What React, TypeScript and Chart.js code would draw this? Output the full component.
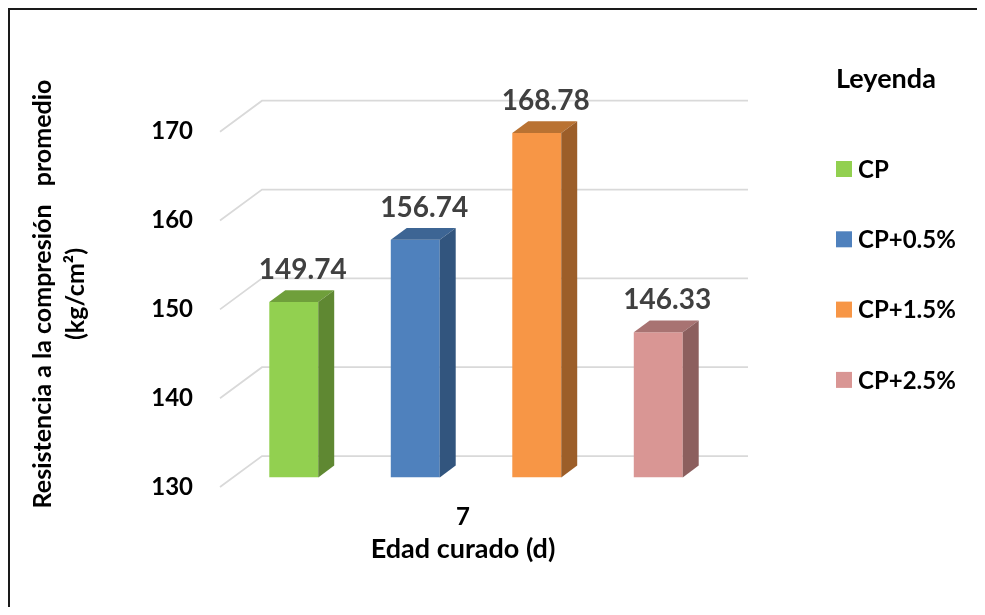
import { useEffect, useRef } from "react";
import { Chart, registerables } from "chart.js";

Chart.register(...registerables);

// Data
const categories = ["7"];
const seriesNames = ["CP", "CP+0.5%", "CP+1.5%", "CP+2.5%"];
const seriesValues = [149.74, 156.74, 168.78, 146.33];
const yTicks = [130, 140, 150, 160, 170];

// Text
const yTitleLines = ["Resistencia a la compresión   promedio", "(kg/cm²)"];
const xTitle = "Edad curado (d)";
const legendTitle = "Leyenda";

// Colours: front face, top face, side face of each 3D column
const frontColors = ["#92D050", "#4F81BD", "#F79646", "#D99694"];
const topColors = ["#6F9F3B", "#3D6594", "#B97232", "#A87372"];
const sideColors = ["#5F8832", "#32557E", "#9C5E29", "#8C5F5E"];

const FONT = "Lato, 'Open Sans', sans-serif";

// Perspective: the full depth of the floor/side wall, and where the columns sit in it
const WALL_DX = 42;
const WALL_DY = -31;
const BAR_FRONT = 0.31;
const BAR_DEPTH = 0.38;

const threeD = {
  id: "threeD",
  beforeDatasetsDraw(chart: any) {
    const { ctx, chartArea } = chart;
    const y = chart.scales.y;
    ctx.save();
    ctx.strokeStyle = "#D9D9D9";
    ctx.lineWidth = 1.75;
    for (const v of yTicks) {
      const py = y.getPixelForValue(v);
      ctx.beginPath();
      ctx.moveTo(chartArea.left, py);
      ctx.lineTo(chartArea.left + WALL_DX, py + WALL_DY);
      ctx.lineTo(chartArea.right + WALL_DX, py + WALL_DY);
      ctx.stroke();
    }
    ctx.restore();
    // front faces are drawn by the bar elements, shifted into the wall depth
    ctx.save();
    ctx.translate(WALL_DX * BAR_FRONT, WALL_DY * BAR_FRONT);
  },
  afterDatasetsDraw(chart: any) {
    const { ctx } = chart;
    ctx.restore();
    const fx = WALL_DX * BAR_FRONT;
    const fy = WALL_DY * BAR_FRONT;
    const dx = WALL_DX * BAR_DEPTH;
    const dy = WALL_DY * BAR_DEPTH;
    chart.data.datasets.forEach((ds: any, i: number) => {
      const meta = chart.getDatasetMeta(i);
      meta.data.forEach((el: any, j: number) => {
        const x0 = el.x - el.width / 2 + fx;
        const x1 = el.x + el.width / 2 + fx;
        const yt = el.y + fy;
        const yb = el.base + fy;
        // top face
        ctx.fillStyle = topColors[i];
        ctx.beginPath();
        ctx.moveTo(x0, yt);
        ctx.lineTo(x1, yt);
        ctx.lineTo(x1 + dx, yt + dy);
        ctx.lineTo(x0 + dx, yt + dy);
        ctx.closePath();
        ctx.fill();
        // side face
        ctx.fillStyle = sideColors[i];
        ctx.beginPath();
        ctx.moveTo(x1, yt);
        ctx.lineTo(x1 + dx, yt + dy);
        ctx.lineTo(x1 + dx, yb + dy);
        ctx.lineTo(x1, yb);
        ctx.closePath();
        ctx.fill();
        // value label
        ctx.fillStyle = "#404040";
        ctx.font = `bold 28px ${FONT}`;
        ctx.textAlign = "center";
        ctx.textBaseline = "middle";
        ctx.fillText(ds.data[j].toFixed(2), el.x + fx + 9, yt - 32);
      });
    });
  },
  afterDraw(chart: any) {
    const { ctx } = chart;
    ctx.save();
    // y axis title, two rotated lines
    ctx.fillStyle = "#000";
    ctx.font = `bold 25px ${FONT}`;
    ctx.textAlign = "center";
    ctx.textBaseline = "middle";
    const xs = [33, 66];
    yTitleLines.forEach((line, k) => {
      ctx.save();
      ctx.translate(xs[k], 284);
      ctx.rotate(-Math.PI / 2);
      ctx.fillText(line, 0, 0);
      ctx.restore();
    });
    // legend
    ctx.textAlign = "left";
    ctx.font = `bold 27px ${FONT}`;
    ctx.fillText(legendTitle, 826, 69);
    ctx.font = `bold 24px ${FONT}`;
    chart.data.datasets.forEach((ds: any, i: number) => {
      const cy = 159 + i * 70.3;
      ctx.fillStyle = ds.backgroundColor;
      ctx.fillRect(826, cy - 8, 16, 16);
      ctx.fillStyle = "#000";
      ctx.fillText(ds.label, 848, cy + 1);
    });
    ctx.restore();
  },
};

export default function App() {
  const ref = useRef<HTMLCanvasElement>(null);
  useEffect(() => {
    document.documentElement.style.overflow = "hidden";
    const chart = new Chart(ref.current!, {
      type: "bar",
      data: {
        labels: categories,
        datasets: seriesNames.map((name, i) => ({
          label: name,
          data: [seriesValues[i]],
          base: 130,
          backgroundColor: frontColors[i],
          borderWidth: 0,
          barPercentage: 0.403,
          categoryPercentage: 1,
        })),
      },
      options: {
        responsive: false,
        animation: false,
        devicePixelRatio: 1,
        layout: { padding: { top: 121.7, right: 279, bottom: 0, left: 0 } },
        plugins: {
          legend: { display: false },
          tooltip: { enabled: false },
        },
        scales: {
          x: {
            grid: { display: false, drawTicks: false },
            border: { display: false },
            ticks: { color: "#000", font: { family: FONT, size: 24, weight: "bold" }, padding: 15.6 },
            title: {
              display: true,
              text: xTitle,
              color: "#000",
              font: { family: FONT, size: 27, weight: "bold" },
              padding: { top: 0, bottom: 41.8 },
            },
            afterFit: (s: any) => {
              s.height = 120;
            },
          },
          y: {
            min: 130,
            max: 170,
            grid: { display: false, drawTicks: false },
            border: { display: false },
            ticks: { color: "#000", font: { family: FONT, size: 24, weight: "bold" }, padding: 27 },
            afterBuildTicks: (s: any) => {
              s.ticks = yTicks.map((v) => ({ value: v }));
            },
            afterFit: (s: any) => {
              s.width = 210;
            },
          },
        },
      },
      plugins: [threeD],
    });
    return () => chart.destroy();
  }, []);
  return (
    <div
      style={{
        width: 977,
        height: 599,
        boxSizing: "border-box",
        borderTop: "2px solid #1a1a1a",
        borderLeft: "2px solid #1a1a1a",
      }}
    >
      <canvas ref={ref} width={975} height={597} style={{ display: "block" }} />
    </div>
  );
}
